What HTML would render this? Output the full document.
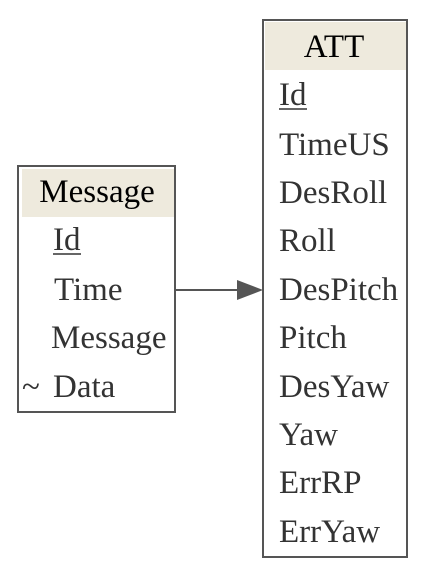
<!DOCTYPE html>
<html><head><style>html,body{margin:0;padding:0;background:#fff;}svg{display:block}text{font-family:"Liberation Serif","Times New Roman",serif;font-size:33px;}</style></head>
<body>
<svg width="424" height="575" xmlns="http://www.w3.org/2000/svg">
<rect width="424" height="575" fill="#fff"/>
<!-- Message table -->
<rect x="22" y="169" width="152" height="48" fill="#eeeadd"/>
<rect x="18" y="166" width="157" height="246" fill="none" stroke="#555" stroke-width="2"/>
<text x="97" y="202" text-anchor="middle" fill="#000">Message</text>
<text x="53" y="250" fill="#333">Id</text>
<line x1="53" y1="254" x2="81" y2="254" stroke="#333" stroke-width="1.5"/>
<text x="54" y="300" fill="#333">Time</text>
<text x="51" y="348" fill="#333">Message</text>
<text x="22" y="397" fill="#333">~</text>
<text x="53" y="397" fill="#333">Data</text>
<!-- Arrow -->
<line x1="175" y1="290" x2="240" y2="290" stroke="#555" stroke-width="2"/>
<polygon points="237,280 263,290 237,300" fill="#555"/>
<!-- ATT table -->
<rect x="265" y="22" width="141" height="48" fill="#eeeadd"/>
<rect x="263" y="20" width="144" height="537" fill="none" stroke="#555" stroke-width="2"/>
<text x="334" y="57" text-anchor="middle" fill="#000">ATT</text>
<g fill="#333">
<text x="279" y="105">Id</text>
<text x="279" y="155">TimeUS</text>
<text x="279" y="203">DesRoll</text>
<text x="279" y="251">Roll</text>
<text x="279" y="300">DesPitch</text>
<text x="279" y="348">Pitch</text>
<text x="279" y="397">DesYaw</text>
<text x="279" y="445">Yaw</text>
<text x="279" y="493">ErrRP</text>
<text x="279" y="542">ErrYaw</text>
</g>
<line x1="279" y1="109" x2="307" y2="109" stroke="#333" stroke-width="1.5"/>
</svg>
</body></html>
